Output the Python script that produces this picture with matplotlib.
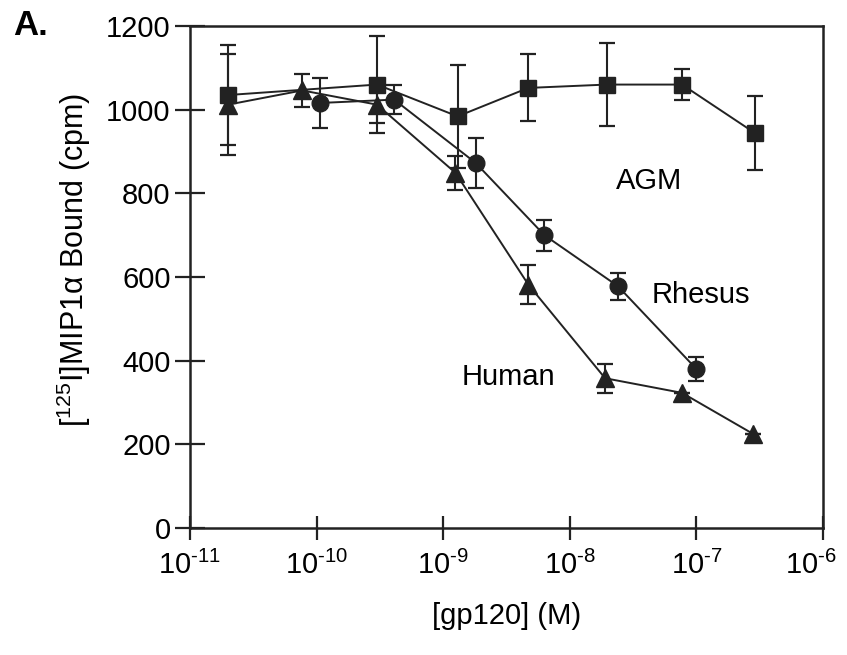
import matplotlib
matplotlib.use("Agg")
import matplotlib.pyplot as plt
import matplotlib.transforms as mtransforms

plt.rcParams['font.family'] = ['Liberation Sans', 'DejaVu Sans']
plt.rcParams['mathtext.fontset'] = 'custom'
plt.rcParams['mathtext.rm'] = 'Liberation Sans'
plt.rcParams['mathtext.it'] = 'Liberation Sans:italic'

# data
human_x = [2.0e-11, 7.7e-11, 3.0e-10, 1.25e-9, 4.7e-9, 1.9e-8, 7.7e-8, 2.8e-7]
human_y = [1012, 1046, 1012, 849, 582, 358, 323, 225]
human_err = [120, 40, 45, 40, 47, 35, 0, 0]

rhesus_x = [1.06e-10, 4.1e-10, 1.8e-9, 6.3e-9, 2.4e-8, 1.0e-7]
rhesus_y = [1016, 1024, 873, 700, 578, 380]
rhesus_err = [60, 35, 60, 37, 32, 28]

agm_x = [2.0e-11, 3.0e-10, 1.3e-9, 4.7e-9, 1.95e-8, 7.7e-8, 2.9e-7]
agm_y = [1035, 1060, 984, 1052, 1060, 1060, 944]
agm_err = [120, 115, 123, 80, 100, 38, 88]

xticks = [1e-11, 1e-10, 1e-9, 1e-8, 1e-7, 1e-6]
xticklabels = [r"$10^{\text{-11}}$", r"$10^{\text{-10}}$", r"$10^{\text{-9}}$",
               r"$10^{\text{-8}}$", r"$10^{\text{-7}}$", r"$10^{\text{-6}}$"]
yticks = [0, 200, 400, 600, 800, 1000, 1200]

col = "#222222"
fs = 21
fig = plt.figure(figsize=(8.47, 6.55), dpi=100)
ax = fig.add_axes([0.2243, 0.1939, 0.7474, 0.7664])

common = dict(color=col, ecolor=col, lw=1.4, elinewidth=1.5, capsize=6, capthick=1.6)
ax.errorbar(agm_x, agm_y, yerr=agm_err, marker="s", ms=12, **common)
ax.errorbar(human_x, human_y, yerr=human_err, marker="^", ms=13, **common)
ax.errorbar(rhesus_x, rhesus_y, yerr=rhesus_err, marker="o", ms=12, **common)

ax.text(2.3e-8, 830, "AGM", fontsize=fs, ha="left", va="center")
ax.text(4.4e-8, 558, "Rhesus", fontsize=fs, ha="left", va="center")
ax.text(1.4e-9, 362, "Human", fontsize=fs, ha="left", va="center")

ax.set_xscale("log")
ax.set_xlim(1e-11, 1e-6)
ax.set_ylim(0, 1200)
ax.set_xticks(xticks)
ax.set_xticklabels(xticklabels)
ax.minorticks_off()
ax.set_yticks(yticks)

ax.tick_params(axis="both", direction="inout", width=1.6, color=col, labelsize=fs)
ax.tick_params(axis="x", length=17, pad=8)
ax.tick_params(axis="y", length=22, pad=3)
for s in ax.spines.values():
    s.set_linewidth(1.8)
    s.set_color(col)

# last x label sits a little left so it stays inside the figure
last = ax.get_xticklabels()[-1]
last.set_transform(last.get_transform() + mtransforms.ScaledTranslation(-9 / 72, 0, fig.dpi_scale_trans))

ax.set_xlabel("[gp120] (M)", fontsize=fs, labelpad=16)
ax.set_ylabel("[$^{125}$I]MIP1α Bound (cpm)", fontsize=22)
ax.yaxis.set_label_coords(-0.153, 0.534)

fig.text(0.015, 0.9466, "A.", fontsize=25, fontweight="bold")

fig.savefig("out.png", dpi=100)
